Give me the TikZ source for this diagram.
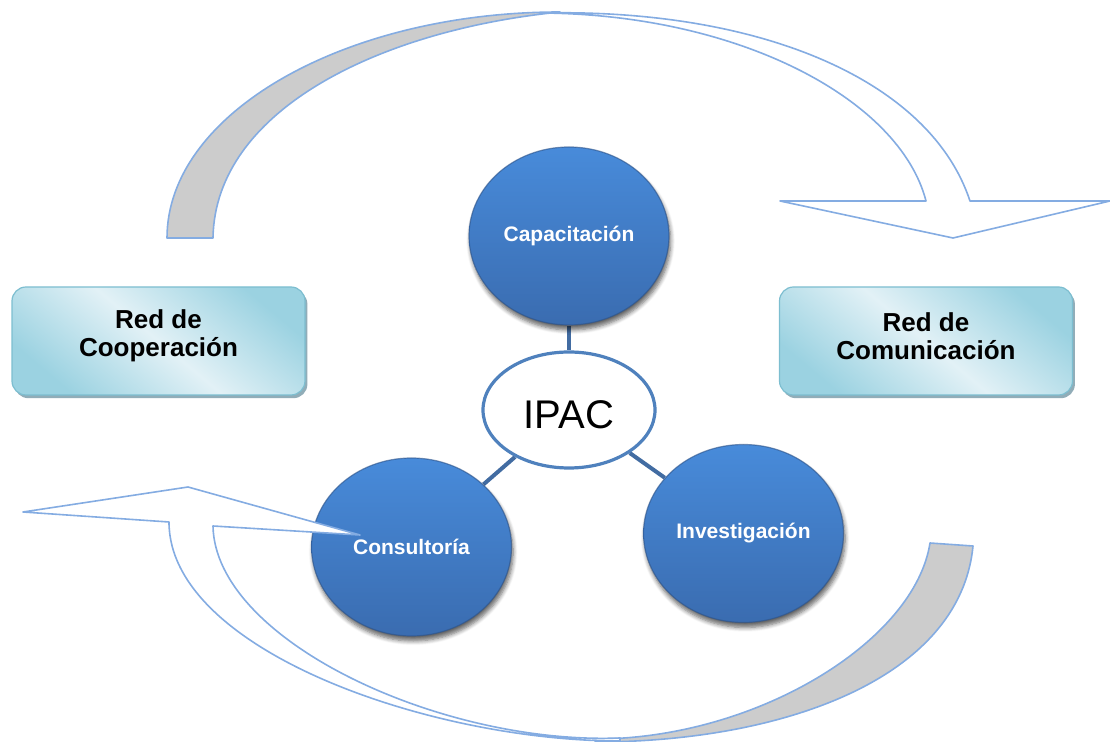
\documentclass[tikz,border=0pt]{standalone}
\usepackage{fontspec}
\setmainfont{Liberation Sans}
\usetikzlibrary{shapes.geometric,shadows,shadows.blur,backgrounds}

\definecolor{arrowline}{RGB}{132,172,226}
\definecolor{bandgray}{RGB}{204,204,204}
\definecolor{linkblue}{RGB}{66,108,162}
\definecolor{ringblue}{RGB}{79,129,189}
\definecolor{ballTop}{RGB}{72,139,218}
\definecolor{ballBottom}{RGB}{58,108,176}
\definecolor{ballEdge}{RGB}{44,82,136}
\definecolor{boxLight}{RGB}{226,241,246}
\definecolor{boxDark}{RGB}{155,210,225}
\definecolor{boxEdge}{RGB}{125,190,208}
\definecolor{boxShadow}{RGB}{118,152,166}

\begin{document}
\begin{tikzpicture}[x=0.5pt,y=-0.5pt,
  ball/.style={ellipse, minimum width=100pt, minimum height=89pt, inner sep=0pt,
    top color=ballTop, bottom color=ballBottom, draw=ballEdge, draw opacity=0.6, line width=0.6pt,
    text=white, font=\bfseries\fontsize{10.5}{12}\selectfont,
    blur shadow={shadow xshift=0.8pt, shadow yshift=-2.5pt, shadow blur steps=6, shadow opacity=60}},
  hub/.style={ellipse, minimum width=86pt, minimum height=58pt, inner sep=0pt,
    draw=ringblue, line width=1.6pt, fill=white,
    font=\fontsize{20}{24}\selectfont, text height=19pt},
  netbox/.style={rectangle, rounded corners=7pt, minimum width=146.5pt, minimum height=54pt,
    draw=boxEdge, line width=0.6pt,
    top color=boxDark, bottom color=boxDark, middle color=boxLight, shading angle=-40,
    drop shadow={shadow xshift=1.2pt, shadow yshift=-1.6pt, fill=boxShadow, opacity=0.8}},
  nettext/.style={align=center, font=\bfseries\fontsize{13}{14}\selectfont, inner sep=0pt},
  link/.style={draw=linkblue, line width=2pt},
  bandline/.style={draw=arrowline, line width=0.8pt, line join=round},
]
\useasboundingbox (0,0) rectangle (1110,742);

% upper curved arrow: shaded back half, then the open front half with its head
\filldraw[bandline, fill=bandgray]
  (167,238) .. controls (167,113) and (345,12) .. (560,12)
  .. controls (380,30) and (215,110) .. (213,238) -- cycle;
\filldraw[bandline, fill=white]
  (540,13) .. controls (760,8) and (930,80) .. (970,201)
  -- (1110,201) -- (953,238) -- (780,201) -- (926,201)
  .. controls (900,100) and (740,14) .. (540,13) -- cycle;

% network boxes
\node[netbox] (coop) at (158.5,341) {};
\node[nettext] (coopt) at (158.5,336) {Red de\\Cooperación};
\node[netbox] (comu) at (926,341) {};
\node[nettext] (comut) at (926,336) {Red de\\Comunicación};

% activity balls around the hub
\node[ball] (cap) at (569,236) {Capacitación};
\node[ball] (cons) at (411.5,547) {Consultoría};
\node[ball] (inv) at (743.5,533.5) {Investigación};
\node[hub] (ipac) at (569,410) {IPAC};

\begin{scope}[on background layer]
  \draw[link] (cap) -- (ipac);
  \draw[link] (ipac) -- (cons);
  \draw[link] (ipac) -- (inv);
\end{scope}

% lower curved arrow: shaded back half on the right, open front half with its head
\filldraw[bandline, fill=bandgray]
  (930,543) -- (973,546) .. controls (960,680) and (780,742) .. (595,742)
  -- (600,739) .. controls (760,737) and (915,640) .. (930,543) -- cycle;
\filldraw[bandline, fill=white]
  (23,512) -- (188,487) -- (360,535) -- (213,526)
  .. controls (215,640) and (440,745) .. (620,738)
  -- (620,741) .. controls (430,741) and (169,650) .. (169,522) -- cycle;
\end{tikzpicture}
\end{document}
